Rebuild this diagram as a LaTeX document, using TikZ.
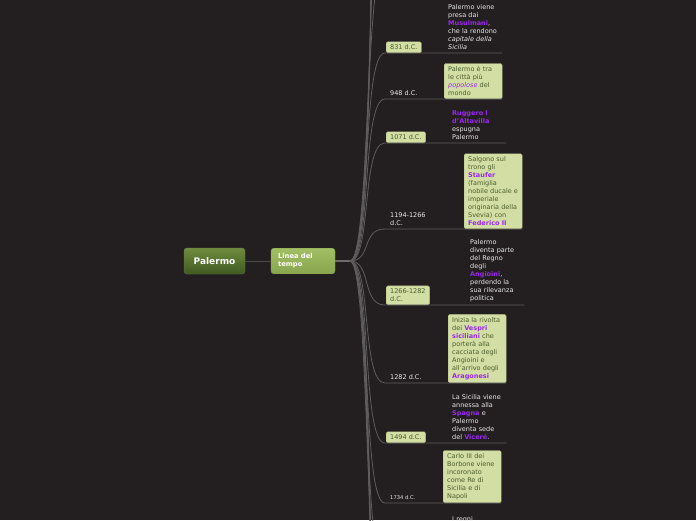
\documentclass[tikz,border=0pt]{standalone}
\usepackage{fontspec}
\setmainfont{DejaVu Sans}

\definecolor{bgdark}{HTML}{231F20}
\definecolor{branch}{HTML}{5E5C5D}
\definecolor{stemline}{HTML}{6E6C6D}
\definecolor{leaf}{HTML}{D3DEA5}
\definecolor{leafline}{HTML}{AEBB7E}
\definecolor{leaftext}{HTML}{4A5C2A}
\definecolor{hilite}{HTML}{9B26F0}
\definecolor{plaintext}{HTML}{E8E8E8}
\definecolor{roottop}{HTML}{6F8C3F}
\definecolor{rootbot}{HTML}{3F5A20}
\definecolor{maintop}{HTML}{A3BF66}
\definecolor{mainbot}{HTML}{88A44C}

\newcommand{\purp}[1]{\textcolor{hilite}{\textbf{#1}}}

\begin{document}
\begin{tikzpicture}[x=1pt, y=-1pt,
    rootbox/.style={draw=rootbot!80!white, rounded corners=3pt, top color=roottop, bottom color=rootbot,
        minimum width=61pt, minimum height=26pt, text=white, font=\fontsize{9}{10}\selectfont\bfseries},
    mainbox/.style={draw=mainbot, rounded corners=3pt, top color=maintop, bottom color=mainbot,
        text width=50pt, inner xsep=7pt, inner ysep=5.5pt, align=left, text=white,
        font=\fontsize{6.8}{8}\selectfont\bfseries},
    datetext/.style={anchor=south west, inner xsep=4pt, inner ysep=3pt, align=left, text=plaintext,
        font=\fontsize{6.5}{8}\selectfont},
    datebox/.style={datetext, draw=leafline, fill=leaf, rounded corners=1.5pt, text=leaftext},
    desctext/.style={anchor=south west, text width=50pt, inner xsep=4pt, inner ysep=3pt, align=left,
        text=plaintext, font=\fontsize{6.5}{8}\selectfont},
    descbox/.style={desctext, draw=leafline, fill=leaf, rounded corners=1.5pt, text=leaftext},
    branchline/.style={draw=branch, line width=0.8pt},
]
    % Background
    \fill[bgdark] (0,0) rectangle (696,520);
    \useasboundingbox (0,0) rectangle (696,520);
    \clip (0,0) rectangle (696,520);

    % Draw nodes
    \node[rootbox] (palermo) at (214.5,261) {Palermo};
    \node[mainbox] (linea) at (303,261) {Linea del\\tempo};
    \coordinate (hub) at (350,261);

    % Branch ends
    \coordinate (d1) at (385,53);
    \coordinate (d2) at (385,99);
    \coordinate (d3) at (385,143);
    \coordinate (d4) at (385,229);
    \coordinate (d5) at (385,305);
    \coordinate (d6) at (385,383);
    \coordinate (d7) at (385,443);
    \coordinate (d8) at (385,503);
    \coordinate (d9) at (385,565);

    % Dates
    \node[datebox] (831) at ([xshift=1pt]d1) {831 d.C.};
    \node[datetext] (948) at ([xshift=1pt]d2) {948 d.C.};
    \node[datebox] (1071) at ([xshift=1pt]d3) {1071 d.C.};
    \node[datetext] (1194) at ([xshift=1pt]d4) {1194-1266\\d.C.};
    \node[datebox] (1266) at ([xshift=1pt]d5) {1266-1282\\d.C.};
    \node[datetext] (1282) at ([xshift=1pt]d6) {1282 d.C.};
    \node[datebox] (1494) at ([xshift=1pt]d7) {1494 d.C.};
    \node[datetext, font=\fontsize{5.2}{6}\selectfont] (1734) at ([xshift=1pt]d8) {1734 d.C.};

    % Descriptions
    \node[desctext] (t1) at (444,53) {Palermo viene\\presa dai\\\purp{Musulmani},\\che la rendono\\\textit{capitale della}\\\textit{Sicilia}};
    \node[descbox] (t2) at (444,99) {Palermo è tra\\le città più\\\textcolor{hilite}{\textit{popolose}} del\\mondo};
    \node[desctext] (t3) at (448,143) {\purp{Ruggero I}\\\purp{d'Altavilla}\\espugna\\Palermo};
    \node[descbox] (t4) at (464,229) {Salgono sul\\trono gli\\\purp{Staufer}\\(famiglia\\nobile ducale e\\imperiale\\originaria della\\Svevia) con\\\purp{Federico II}};
    \node[desctext] (t5) at (466,305) {Palermo\\diventa parte\\del Regno\\degli\\\purp{Angioini},\\perdendo la\\sua rilevanza\\politica};
    \node[descbox] (t6) at (448,383) {Inizia la rivolta\\dei \purp{Vespri}\\\purp{siciliani} che\\porterà alla\\cacciata degli\\Angioini e\\all'arrivo degli\\\purp{Aragonesi}};
    \node[desctext] (t7) at (448,443) {La Sicilia viene\\annessa alla\\\purp{Spagna} e\\Palermo\\diventa sede\\del \purp{Viceré}.};
    \node[descbox] (t8) at (443,503) {Carlo III dei\\Borbone viene\\incoronato\\come Re di\\Sicilia e di\\Napoli};
    \node[desctext, anchor=north west] (t9) at (448,513) {I regni};

    % Draw connections
    \draw[draw=branch!80!black, line width=1pt] (palermo) -- (linea);
    \draw[draw=stemline, line width=1.6pt] (linea) -- (hub);
    \foreach \d/\t in {d1/t1, d2/t2, d3/t3, d4/t4, d5/t5, d6/t6, d7/t7, d8/t8, d9/t9}
        \draw[branchline] (hub) .. controls +(22,0) and +(-24,0) .. (\d) -- (\d -| \t.south east);

    % Branches running off the picture
    \foreach \y/\c in {-40/20,-120/24,-210/28,-300/30,-400/32}
        \draw[branchline] (hub) .. controls +(\c,0) and +(-20,0) .. (385,\y) -- (520,\y);
    \foreach \y/\c in {640/20,720/24,810/28,900/30}
        \draw[branchline] (hub) .. controls +(\c,0) and +(-20,0) .. (385,\y) -- (520,\y);
\end{tikzpicture}
\end{document}
